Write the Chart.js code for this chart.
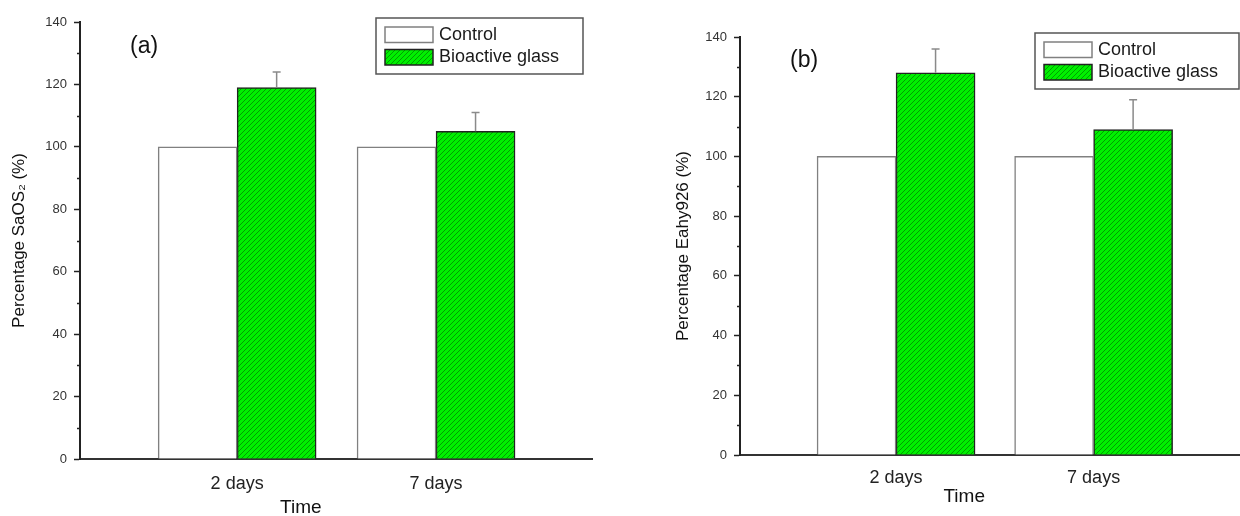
<!DOCTYPE html>
<html>
<head>
<meta charset="utf-8">
<script src="https://cdn.jsdelivr.net/npm/chart.js@4/dist/chart.umd.min.js"></script>
<style>
  html, body { margin: 0; padding: 0; background: #fff; overflow: hidden; }
  #wrap { position: relative; width: 1240px; height: 516px; }
  canvas { position: absolute; top: 0; }
</style>
</head>
<body>
<div id="wrap">
  <canvas id="chartA" width="620" height="516" style="left:0"></canvas>
  <canvas id="chartB" width="620" height="516" style="left:620px"></canvas>
</div>
<script>
// ======================================================
// DATA
// ======================================================
const timeLabels = ['2 days', '7 days'];
const seriesNames = ['Control', 'Bioactive glass'];

// panel (a) - SaOS2
const controlA = [100, 100];
const glassA = [119, 105];
const glassErrA = [5, 6];

// panel (b) - Eahy926
const controlB = [100, 100];
const glassB = [128, 109];
const glassErrB = [8, 10];

const yTicks = [0, 20, 40, 60, 80, 100, 120, 140];
const yMinorTicks = [10, 30, 50, 70, 90, 110, 130];

const FONT = "'Liberation Sans', Arial, Helvetica, sans-serif";

// green hatched fill, like the Origin pattern
function makeHatch() {
  const c = document.createElement('canvas');
  c.width = 5; c.height = 5;
  const g = c.getContext('2d');
  g.fillStyle = '#00f000';
  g.fillRect(0, 0, 5, 5);
  g.strokeStyle = 'rgba(0,105,0,0.6)';
  g.lineWidth = 1;
  g.beginPath();
  g.moveTo(0, 5); g.lineTo(5, 0);
  g.moveTo(-1, 1); g.lineTo(1, -1);
  g.moveTo(4, 6); g.lineTo(6, 4);
  g.stroke();
  return g.createPattern(c, 'repeat');
}
const hatch = makeHatch();

// ======================================================
// PLUGIN: minor ticks, error bars, legend box, labels
// ======================================================
const decor = {
  id: 'decor',
  afterDatasetsDraw(chart, args, opts) {
    const ctx = chart.ctx;
    const y = chart.scales.y;
    const x = chart.scales.x;
    const area = chart.chartArea;
    ctx.save();

    // minor ticks on the y axis
    ctx.strokeStyle = '#222';
    ctx.lineWidth = 1.5;
    yMinorTicks.forEach(v => {
      const py = Math.round(y.getPixelForValue(v)) + 0.5;
      ctx.beginPath();
      ctx.moveTo(area.left - 3, py);
      ctx.lineTo(area.left, py);
      ctx.stroke();
    });

    // upper error bars on the glass series
    const meta = chart.getDatasetMeta(1);
    const errs = opts.errors;
    ctx.strokeStyle = '#8a8a8a';
    ctx.lineWidth = 1.5;
    meta.data.forEach((bar, i) => {
      const v = chart.data.datasets[1].data[i].y;
      const top = y.getPixelForValue(v + errs[i]);
      ctx.beginPath();
      ctx.moveTo(bar.x, bar.y);
      ctx.lineTo(bar.x, top);
      ctx.moveTo(bar.x - 4, top);
      ctx.lineTo(bar.x + 4, top);
      ctx.stroke();
    });

    // panel tag
    ctx.fillStyle = '#111';
    ctx.font = '23px ' + FONT;
    ctx.textAlign = 'left';
    ctx.textBaseline = 'middle';
    ctx.fillText(opts.tag, opts.tagX, opts.tagY);

    // x title
    ctx.font = '19px ' + FONT;
    ctx.textAlign = 'center';
    ctx.fillText('Time', x.getPixelForValue(opts.timeAt), opts.timeY);

    // legend box
    const L = opts.legend;
    ctx.fillStyle = '#fff';
    ctx.fillRect(L.x, L.y, L.w, L.h);
    ctx.strokeStyle = '#555';
    ctx.lineWidth = 1.5;
    ctx.strokeRect(L.x, L.y, L.w, L.h);
    const rows = [
      { fill: '#fff', stroke: '#808080' },
      { fill: hatch, stroke: '#222' }
    ];
    ctx.font = '18px ' + FONT;
    ctx.textAlign = 'left';
    rows.forEach((r, i) => {
      const sy = L.y + 9 + i * 22.5;
      ctx.fillStyle = r.fill;
      ctx.fillRect(L.x + 9, sy, 48, 15.5);
      ctx.strokeStyle = r.stroke;
      ctx.strokeRect(L.x + 9, sy, 48, 15.5);
      ctx.fillStyle = '#1a1a1a';
      ctx.fillText(seriesNames[i], L.x + 63, sy + 8);
    });
    ctx.restore();
  }
};

function makeChart(id, p) {
  const ctx = document.getElementById(id).getContext('2d');
  return new Chart(ctx, {
    type: 'bar',
    data: {
      datasets: [
        {
          label: seriesNames[0],
          data: p.control.map((v, i) => ({ x: i + 1, y: v })),
          backgroundColor: '#ffffff',
          borderColor: '#808080',
          borderWidth: 1.5,
          barThickness: 79,
        },
        {
          label: seriesNames[1],
          data: p.glass.map((v, i) => ({ x: i + 1, y: v })),
          backgroundColor: hatch,
          borderColor: '#222',
          borderWidth: 1.5,
          barThickness: 79,
        }
      ]
    },
    plugins: [decor],
    options: {
      responsive: false,
      animation: false,
      events: [],
      layout: { padding: p.padding },
      plugins: {
        legend: { display: false },
        tooltip: { enabled: false },
        decor: {
          errors: p.errors,
          tag: p.tag, tagX: p.tagX, tagY: p.tagY,
          timeAt: p.timeAt, timeY: p.timeY,
          legend: p.legend
        }
      },
      scales: {
        x: {
          type: 'linear',
          offset: false,
          min: 0.21,
          max: p.xMax,
          afterBuildTicks: s => { s.ticks = timeLabels.map((_, i) => ({ value: i + 1 })); },
          afterFit: s => { s.height = p.xHeight; },
          ticks: {
            color: '#222',
            padding: p.xPad,
            maxRotation: 0,
            font: { family: FONT, size: 18 },
            callback: v => timeLabels[Math.round(v) - 1]
          },
          grid: { display: false, offset: false },
          border: { color: '#333', width: 2 }
        },
        y: {
          min: 0,
          max: 140,
          afterBuildTicks: s => { s.ticks = yTicks.map(v => ({ value: v })); },
          afterFit: s => { s.width = p.yWidth; },
          ticks: {
            color: '#333',
            padding: 7,
            font: { family: FONT, size: 13 }
          },
          grid: {
            drawOnChartArea: false,
            tickLength: 6,
            tickColor: '#222',
            tickWidth: 1.5
          },
          border: { color: '#222', width: 2 },
          title: {
            display: true,
            text: p.yTitle,
            color: '#111',
            padding: { top: 9, bottom: 0 },
            font: { family: FONT, size: 17 }
          }
        }
      }
    }
  });
}

makeChart('chartA', {
  control: controlA, glass: glassA, errors: glassErrA,
  yTitle: 'Percentage SaOS\u2082 (%)',
  padding: { left: 0, top: 22, right: 28, bottom: 0 },
  yWidth: 80, xHeight: 57, xMax: 2.784, xPad: 6,
  tag: '(a)', tagX: 130, tagY: 47,
  timeAt: 1.32, timeY: 508,
  legend: { x: 376, y: 18, w: 207, h: 56 }
});

makeChart('chartB', {
  control: controlB, glass: glassB, errors: glassErrB,
  yTitle: 'Percentage Eahy926 (%)',
  padding: { left: 44, top: 37, right: 0, bottom: 0 },
  yWidth: 76, xHeight: 61, xMax: 2.741, xPad: 4,
  tag: '(b)', tagX: 170, tagY: 61,
  timeAt: 1.345, timeY: 497,
  legend: { x: 415, y: 33, w: 204, h: 56 }
});
</script>
</body>
</html>
